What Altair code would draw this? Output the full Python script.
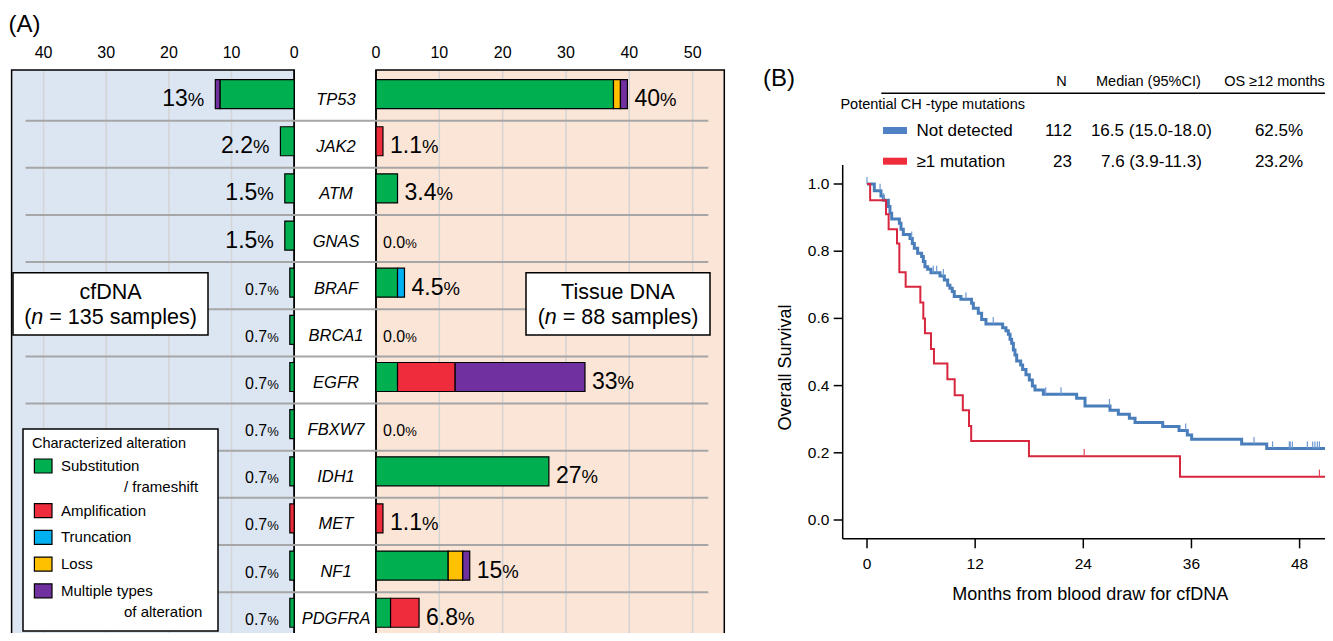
import altair as alt
import pandas as pd

FONT = "Liberation Sans"

# ---------------------------------------------------------------- Panel A data
genes = ["TP53", "JAK2", "ATM", "GNAS", "BRAF", "BRCA1", "EGFR", "FBXW7",
         "IDH1", "MET", "NF1", "PDGFRA"]
alteration_types = ["Substitution", "Amplification", "Truncation", "Loss", "Multiple types"]
alteration_second_line = ["/ frameshift", "", "", "", "of alteration"]
alteration_colors = ["#00b050", "#ee2c3c", "#00b0f0", "#ffc000", "#7030a0"]

# cfDNA: % of 135 samples
cf_substitution = [11.85, 2.2, 1.5, 1.5, 0.7, 0.7, 0.7, 0.7, 0.7, 0.0, 0.7, 0.7]
cf_amplification = [0, 0, 0, 0, 0, 0, 0, 0, 0, 0.7, 0, 0]
cf_truncation = [0, 0, 0, 0, 0, 0, 0, 0, 0, 0, 0, 0]
cf_loss = [0, 0, 0, 0, 0, 0, 0, 0, 0, 0, 0, 0]
cf_multiple = [0.74, 0, 0, 0, 0, 0, 0, 0, 0, 0, 0, 0]
cf_labels = ["13", "2.2", "1.5", "1.5", "0.7", "0.7", "0.7", "0.7", "0.7", "0.7", "0.7", "0.7"]

# Tissue DNA: % of 88 samples
ti_substitution = [37.5, 0, 3.4, 0, 3.4, 0, 3.4, 0, 27.3, 0, 11.4, 2.3]
ti_amplification = [0, 1.1, 0, 0, 0, 0, 9.1, 0, 0, 1.1, 0, 4.5]
ti_truncation = [0, 0, 0, 0, 1.1, 0, 0, 0, 0, 0, 0, 0]
ti_loss = [1.1, 0, 0, 0, 0, 0, 0, 0, 0, 0, 2.3, 0]
ti_multiple = [1.1, 0, 0, 0, 0, 0, 20.5, 0, 0, 0, 1.1, 0]
ti_labels = ["40", "1.1", "3.4", "0.0", "4.5", "0.0", "33", "0.0", "27", "1.1", "15", "6.8"]

left_ticks = [0, 10, 20, 30, 40]
right_ticks = [0, 10, 20, 30, 40, 50]

# ---------------------------------------------------------------- Panel B data
km_groups = ["Not detected", "\u22651 mutation"]
km_n = ["112", "23"]
km_median = ["16.5 (15.0-18.0)", "7.6 (3.9-11.3)"]
km_os12 = ["62.5%", "23.2%"]
km_line_colors = ["#4a7ebb", "#d7263d"]
km_swatch_colors = ["#4f81c4", "#ee2c3c"]

blue_months = [0, 0.81, 1.55, 1.81, 2.37, 2.55, 2.74, 3.59, 3.77, 4.03, 4.77, 5.03,
               5.25, 5.62, 6.06, 6.25, 6.43, 6.73, 7.10, 8.10, 8.58, 8.95, 9.20, 9.46,
               9.68, 10.42, 11.60, 11.80, 12.35, 12.72, 13.20, 15.05, 15.42, 15.68,
               15.87, 16.05, 16.24, 16.42, 16.61, 17.05, 17.27, 17.64, 18.01, 18.35,
               18.64, 19.57, 23.26, 24.19, 26.96, 27.89, 29.11, 29.74, 32.81, 34.62,
               35.54, 36.02, 41.57, 44.35, 51.8]
blue_surv = [1.0, 0.980, 0.964, 0.952, 0.933, 0.913, 0.896, 0.883, 0.865, 0.850, 0.838, 0.823,
             0.809, 0.794, 0.784, 0.769, 0.754, 0.746, 0.736, 0.726, 0.714, 0.699, 0.690, 0.680,
             0.665, 0.657, 0.645, 0.630, 0.615, 0.597, 0.583, 0.572, 0.563, 0.553,
             0.538, 0.526, 0.506, 0.491, 0.473, 0.461, 0.448, 0.432, 0.417, 0.399,
             0.387, 0.374, 0.362, 0.339, 0.327, 0.315, 0.303, 0.290, 0.278, 0.266,
             0.253, 0.240, 0.226, 0.213, 0.213]
blue_censored = [0.0, 1.45, 1.81, 4.96, 7.36, 7.73, 8.47, 10.98, 14.01, 19.83, 21.53,
                 26.9, 35.36, 42.94, 45.0, 46.86, 46.97, 47.2, 48.86, 49.45, 49.7,
                 49.97, 50.2, 51.56]

red_months = [0, 0.35, 2.11, 2.40, 3.33, 3.59, 4.29, 5.92, 6.25, 6.43, 7.10, 7.43,
              8.92, 9.73, 10.63, 11.32, 11.56, 17.97, 34.73, 51.8]
red_surv = [1.0, 0.952, 0.910, 0.865, 0.823, 0.737, 0.694, 0.647, 0.600, 0.556, 0.509, 0.466,
            0.419, 0.371, 0.327, 0.280, 0.235, 0.190, 0.129, 0.129]
red_censored = [24.1, 50.2]

km_yticks = [0.0, 0.2, 0.4, 0.6, 0.8, 1.0]
km_xticks = [0, 12, 24, 36, 48]

# ---------------------------------------------------------------- helpers
CW = {" ": .278, "(": .333, ")": .333, "=": .584, ".": .278, "%": .889, "-": .333,
      "s": .5, "a": .556, "m": .833, "p": .556, "l": .222, "e": .556, "n": .556}


def text_width(s, size):
    return sum(CW.get(c, .556) for c in s) * size


W, H = 1317, 625
one = pd.DataFrame({"k": [0]})


def txt(text, x, y, size, align="left", baseline="middle", style="normal", angle=0):
    return alt.Chart(one).mark_text(
        text=text, align=align, baseline=baseline, fontSize=size, font=FONT,
        fontStyle=style, angle=angle, color="black"
    ).encode(x=alt.value(x), y=alt.value(y))


def box(x1, y1, x2, y2, fill, stroke="black", sw=1.5):
    return alt.Chart(one).mark_rect(fill=fill, stroke=stroke, strokeWidth=sw).encode(
        x=alt.value(x1), x2=alt.value(x2), y=alt.value(y1), y2=alt.value(y2))


def hrule(x1, x2, y, color="black", sw=1.5):
    return alt.Chart(one).mark_rule(color=color, strokeWidth=sw).encode(
        x=alt.value(x1), x2=alt.value(x2), y=alt.value(y))


def vrule(x, y1, y2, color="black", sw=1.5):
    return alt.Chart(one).mark_rule(color=color, strokeWidth=sw).encode(
        x=alt.value(x), y=alt.value(y1), y2=alt.value(y2))


# ---------------------------------------------------------------- Panel A scales
LX0, LX1 = 3.6, 286.2      # left panel: 45.1 .. 0
RX0, RX1 = 368.0, 716.3    # right panel: 0 .. 55
PY0, PYB = 62.0, 650.0
L_MAX, R_MAX = 45.1, 55.0
PPU_L = (LX1 - LX0) / L_MAX
PPU_R = (RX1 - RX0) / R_MAX
xL = alt.Scale(domain=[0, L_MAX], range=[LX1, LX0], nice=False, zero=False)
xR = alt.Scale(domain=[0, R_MAX], range=[RX0, RX1], nice=False, zero=False)
yBand = alt.Scale(type="band", domain=genes, range=[65.5, 631.3], paddingInner=0, paddingOuter=0)
color_scale = alt.Scale(domain=alteration_types, range=alteration_colors)


def segments(series_list):
    rows = []
    for gi, g in enumerate(genes):
        for ti, (name, vals) in enumerate(zip(alteration_types, series_list)):
            if vals[gi] > 0:
                rows.append(dict(gene=g, type=name, order=ti, value=vals[gi]))
    return pd.DataFrame(rows)


def label_frame(series_list, labels, side):
    rows = []
    for gi, g in enumerate(genes):
        total = sum(s[gi] for s in series_list)
        big = float(labels[gi]) >= 1
        nsz, psz = (23, 18.5) if big else (16, 13)
        if side == "left":
            gap = 11
            pct_x = total + gap / PPU_L
            num_x = total + (gap + text_width("%", psz)) / PPU_L
        else:
            gap = 7
            num_x = total + gap / PPU_R
            pct_x = total + (gap + text_width(labels[gi], nsz)) / PPU_R
        rows.append(dict(gene=g, num=labels[gi], pct="%", num_x=num_x, pct_x=pct_x,
                         nsz=nsz, psz=psz))
    return pd.DataFrame(rows)


cf_series = [cf_substitution, cf_amplification, cf_truncation, cf_loss, cf_multiple]
ti_series = [ti_substitution, ti_amplification, ti_truncation, ti_loss, ti_multiple]
cf_seg = segments(cf_series)
ti_seg = segments(ti_series)
cf_lab = label_frame(cf_series, cf_labels, "left")
ti_lab = label_frame(ti_series, ti_labels, "right")

layers = []
# panel backgrounds / frames
layers.append(box(LX0, PY0, LX1, PYB, "#dce6f2"))
layers.append(box(RX0, PY0, RX1, PYB, "#fbe5d6"))

# gridlines
layers.append(alt.Chart(pd.DataFrame({"v": left_ticks[1:]})).mark_rule(
    color="#d4d4d4", strokeWidth=1.5).encode(
    x=alt.X("v:Q", scale=xL, axis=None), y=alt.value(PY0 + 1), y2=alt.value(PYB)))
layers.append(alt.Chart(pd.DataFrame({"v": right_ticks[1:]})).mark_rule(
    color="#d4d4d4", strokeWidth=1.5).encode(
    x=alt.X("v:Q", scale=xR, axis=None), y=alt.value(PY0 + 1), y2=alt.value(PYB)))
layers.append(vrule(LX1, PY0, PYB))
layers.append(vrule(RX0, PY0, PYB))

# row separators
layers.append(alt.Chart(pd.DataFrame({"gene": genes[:-1]})).mark_rule(
    color="#a6a6a6", strokeWidth=2).encode(
    y=alt.Y("gene:N", scale=yBand, axis=None, bandPosition=1),
    x=alt.value(17.6), x2=alt.value(700.3)))

# bars
for seg, xs in [(cf_seg, xL), (ti_seg, xR)]:
    layers.append(alt.Chart(seg).mark_bar(size=29, yOffset=-3, stroke="black", strokeWidth=1.2).encode(
        y=alt.Y("gene:N", scale=yBand, axis=None),
        x=alt.X("value:Q", stack="zero", scale=xs, axis=None),
        color=alt.Color("type:N", scale=color_scale, legend=None),
        order=alt.Order("order:Q")))

# gene names
layers.append(alt.Chart(pd.DataFrame({"gene": genes})).mark_text(
    font=FONT, fontSize=16.5, fontStyle="italic", align="center", baseline="middle",
    yOffset=3, color="black").encode(
    y=alt.Y("gene:N", scale=yBand, axis=None), x=alt.value(328), text="gene:N"))

# percentage labels
for lab, xs, align in [(cf_lab, xL, "right"), (ti_lab, xR, "left")]:
    layers.append(alt.Chart(lab).mark_text(
        font=FONT, align=align, baseline="alphabetic", yOffset=9, color="black").encode(
        y=alt.Y("gene:N", scale=yBand, axis=None),
        x=alt.X("num_x:Q", scale=xs, axis=None),
        size=alt.Size("nsz:Q", scale=None), text="num:N"))
    layers.append(alt.Chart(lab).mark_text(
        font=FONT, align=align, baseline="alphabetic", yOffset=9, color="black").encode(
        y=alt.Y("gene:N", scale=yBand, axis=None),
        x=alt.X("pct_x:Q", scale=xs, axis=None),
        size=alt.Size("psz:Q", scale=None), text="pct:N"))

# top tick labels
for ticks, xs in [(left_ticks, xL), (right_ticks, xR)]:
    layers.append(alt.Chart(pd.DataFrame({"v": ticks})).mark_text(
        font=FONT, fontSize=16, align="center", baseline="middle", color="black").encode(
        x=alt.X("v:Q", scale=xs, axis=None), y=alt.value(44.5), text="v:Q"))

layers.append(txt("(A)", 0.5, 17, 24))


# cfDNA / Tissue DNA boxes
def sample_box(x1, x2, title, rest):
    cx = (x1 + x2) / 2
    fs = 21.5
    out = [box(x1, 264.7, x2, 327, "white"), txt(title, cx, 285, fs, align="center")]
    w_open, w_n, w_sp = text_width("(", fs), text_width("n", fs), text_width(" ", fs)
    total = w_open + w_n + w_sp + text_width(rest, fs)
    start = cx - total / 2
    out.append(txt("(", start, 310, fs))
    out.append(txt("n", start + w_open, 310, fs, style="italic"))
    out.append(txt(rest, start + w_open + w_n + w_sp, 310, fs))
    return out


layers += sample_box(5, 200, "cfDNA", "= 135 samples)")
layers += sample_box(518, 702, "Tissue DNA", "= 88 samples)")

# alteration legend
leg_rows = []
slot = 0.0
for name, second, col in zip(alteration_types, alteration_second_line, alteration_colors):
    leg_rows.append(dict(name=name, second=second, slot=slot,
                         y1=slot - 0.262, y2=slot + 0.262, slot2=slot + 0.8))
    slot += 1 + (0.674 if second else 0)
leg = pd.DataFrame(leg_rows)
yLeg = alt.Scale(domain=[0, 1], range=[458, 484.7], nice=False, zero=False)

layers.append(box(15, 421, 210, 623, "white"))
layers.append(txt("Characterized alteration", 24, 435.5, 14.5))
layers.append(alt.Chart(leg).mark_rect(stroke="black", strokeWidth=1.2).encode(
    x=alt.value(26.4), x2=alt.value(44),
    y=alt.Y("y1:Q", scale=yLeg, axis=None), y2="y2:Q",
    color=alt.Color("name:N", scale=color_scale, legend=None)))
layers.append(alt.Chart(leg).mark_text(
    font=FONT, fontSize=15, align="left", baseline="middle", color="black").encode(
    x=alt.value(53), y=alt.Y("slot:Q", scale=yLeg, axis=None), text="name:N"))
layers.append(alt.Chart(leg[leg["second"] != ""]).mark_text(
    font=FONT, fontSize=15, align="left", baseline="middle", color="black").encode(
    x=alt.value(116), y=alt.Y("slot2:Q", scale=yLeg, axis=None), text="second:N"))

# ---------------------------------------------------------------- Panel B
xKM = alt.Scale(domain=[0, 48], range=[859, 859 + 48 * 9.0125], nice=False, zero=False)
yKM = alt.Scale(domain=[0, 1], range=[512, 176], nice=False, zero=False)
AX_X, AX_Y = 834.7, 530.7

layers.append(txt("(B)", 755, 71, 24))

# table
layers.append(txt("N", 1053.4, 73.7, 14.5, align="center"))
layers.append(txt("Median (95%CI)", 1140.4, 73.7, 14.5, align="center"))
layers.append(txt("OS \u226512 months", 1266.5, 73.7, 14.5, align="center"))
layers.append(hrule(873.3, W, 85.3, sw=1.5))
layers.append(txt("Potential CH -type mutations", 832.4, 97, 14.5))

tab = pd.DataFrame({"group": km_groups, "n": km_n, "median": km_median, "os": km_os12})
yTab = alt.Scale(type="point", domain=km_groups, range=[123, 153.7], padding=0)
layers.append(alt.Chart(tab).mark_rule(strokeWidth=7, strokeCap="butt", yOffset=-0.5).encode(
    x=alt.value(875), x2=alt.value(899), y=alt.Y("group:N", scale=yTab, axis=None),
    color=alt.Color("group:N", scale=alt.Scale(domain=km_groups, range=km_swatch_colors), legend=None)))
for field, xpos, align in [("group", 908.4, "left"), ("n", 1064, "right"),
                           ("median", 1143.4, "center"), ("os", 1271, "center")]:
    layers.append(alt.Chart(tab).mark_text(
        font=FONT, fontSize=17, align=align, baseline="middle", color="black").encode(
        x=alt.value(xpos), y=alt.Y("group:N", scale=yTab, axis=None), text=f"{field}:N"))

# axes
layers.append(vrule(AX_X, 157, AX_Y))
layers.append(hrule(AX_X, W, AX_Y))
layers.append(alt.Chart(pd.DataFrame({"v": km_yticks})).mark_rule(color="black", strokeWidth=1.5).encode(
    y=alt.Y("v:Q", scale=yKM, axis=None), x=alt.value(825.7), x2=alt.value(AX_X)))
layers.append(alt.Chart(pd.DataFrame({"v": km_yticks})).mark_text(
    font=FONT, fontSize=15.5, align="right", baseline="middle", color="black").encode(
    y=alt.Y("v:Q", scale=yKM, axis=None), x=alt.value(821.4), text=alt.Text("v:Q", format=".1f")))
layers.append(alt.Chart(pd.DataFrame({"v": km_xticks})).mark_rule(color="black", strokeWidth=1.5).encode(
    x=alt.X("v:Q", scale=xKM, axis=None), y=alt.value(AX_Y), y2=alt.value(540.3)))
layers.append(alt.Chart(pd.DataFrame({"v": km_xticks})).mark_text(
    font=FONT, fontSize=15.5, align="center", baseline="middle", color="black").encode(
    x=alt.X("v:Q", scale=xKM, axis=None), y=alt.value(556.3), text="v:Q"))
layers.append(txt("Months from blood draw for cfDNA", 1082.3, 587, 18, align="center"))
layers.append(txt("Overall Survival", 777.6, 359.5, 18, align="center", angle=270))


def surv_at(months, surv, t):
    s = surv[0]
    for m, v in zip(months, surv):
        if m <= t:
            s = v
    return s


def km_layers(months, surv, censored, color, width, tick_color):
    steps = pd.DataFrame({"t": months, "s": surv})
    cens = pd.DataFrame({"t": censored, "s": [surv_at(months, surv, t) for t in censored]})
    cens["s2"] = cens["s"] + 0.021
    line = alt.Chart(steps).mark_line(interpolate="step-after", color=color, strokeWidth=width).encode(
        x=alt.X("t:Q", scale=xKM, axis=None), y=alt.Y("s:Q", scale=yKM, axis=None), order="t:Q")
    ticks = alt.Chart(cens).mark_rule(color=tick_color, strokeWidth=1.2).encode(
        x=alt.X("t:Q", scale=xKM, axis=None), y=alt.Y("s:Q", scale=yKM, axis=None), y2="s2:Q")
    return [line, ticks]


layers += km_layers(blue_months, blue_surv, blue_censored, km_line_colors[0], 3, "#6f9bd3")
layers += km_layers(red_months, red_surv, red_censored, km_line_colors[1], 2, "#e04a5c")

chart = alt.layer(*layers).resolve_scale(
    x="independent", y="independent", color="independent", size="independent"
).properties(
    width=W, height=H, padding=0, autosize=alt.AutoSizeParams(type="none")
).configure_view(stroke=None)

chart.save("out.html", embed_options={"renderer": "svg", "actions": False})
